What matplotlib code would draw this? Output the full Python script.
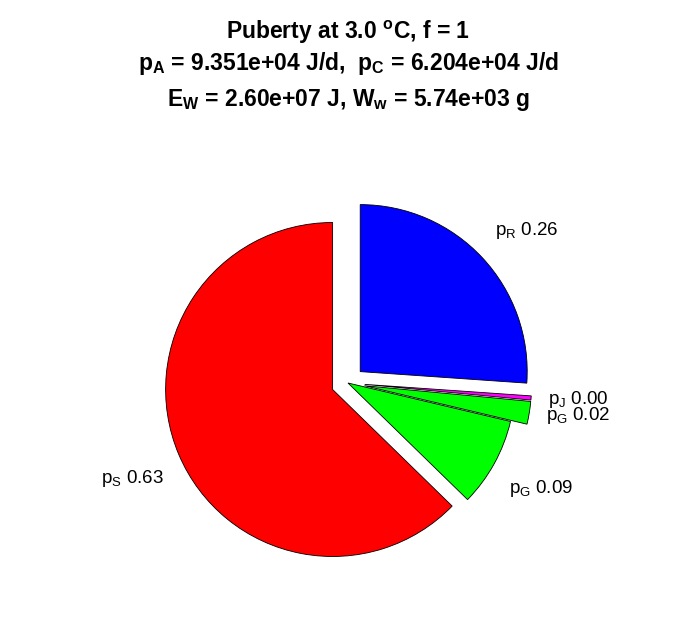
import matplotlib
matplotlib.use("Agg")
import matplotlib.pyplot as plt
import numpy as np

plt.rcParams['font.family'] = ['Liberation Sans', 'DejaVu Sans']
plt.rcParams['mathtext.default'] = 'regular'

# fractions of assimilation power, clockwise from the top
names = ['p_R', 'p_J', 'p_G', 'p_G', 'p_S']
fracs = [0.261, 0.004, 0.022, 0.086, 0.627]
colors = ['#0000ff', '#ff00ff', '#00ff00', '#00ff00', '#ff0000']
explode = [0.1, 0.1, 0.1, 0.0, 0.1]

title_lines = [r'Puberty at 3.0 $^{o}$C, f = 1',
               r'p$_A$ = 9.351e+04 J/d,  p$_C$ = 6.204e+04 J/d',
               r'E$_W$ = 2.60e+07 J, W$_w$ = 5.74e+03 g']

labels = ['%s$_%s$ %.2f' % (n[0], n[2], f) for n, f in zip(names, fracs)]

fig = plt.figure(figsize=(6.96, 6.18), dpi=100)
ax = fig.add_axes([0, 0, 1, 1])

wedges, texts = ax.pie(fracs, explode=explode, colors=colors, labels=labels,
                       startangle=90, counterclock=False, labeldistance=1.1,
                       wedgeprops=dict(edgecolor='black', linewidth=0.6),
                       textprops=dict(fontsize=13.5))

# matlab-like vertical placement of the labels
for w, t in zip(wedges, texts):
    a = np.deg2rad((w.theta1 + w.theta2) / 2)
    s = np.sin(a)
    x, y = t.get_position()
    if s > 0.3:
        t.set_va('bottom')
        t.set_position((x, y + 0.03))
    elif s < -0.3:
        t.set_va('top')
        t.set_position((x, y - 0.04))

# pixel geometry of the reference: centre (348, 383), radius 167
r = 167.0
ax.set_xlim(-348 / r, 348 / r)
ax.set_ylim(-(618 - 383) / r, 383 / r)
ax.set_aspect('auto')
ax.axis('off')

ys = [1 - 39 / 618, 1 - 70 / 618, 1 - 106 / 618]
for t, y in zip(title_lines, ys):
    fig.text(0.5, y, t, ha='center', va='baseline', fontsize=16.5, fontweight='bold')

fig.savefig('out.png', dpi=100)
